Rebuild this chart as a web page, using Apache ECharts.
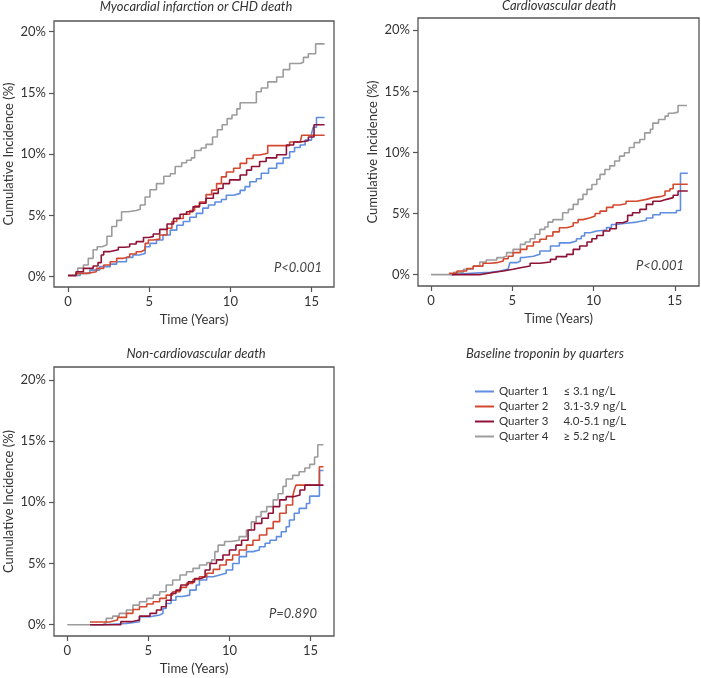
<!DOCTYPE html>
<html>
<head>
<meta charset="utf-8">
<script src="https://cdn.jsdelivr.net/npm/echarts@6/dist/echarts.min.js"></script>
<style>html,body{margin:0;padding:0;background:#fff;}#c{width:701px;height:678px;}</style>
</head>
<body>
<div id="c"></div>
<script>
// ---------- DATA ----------
const panelTitles = ['Myocardial infarction or CHD death', 'Cardiovascular death', 'Non-cardiovascular death'];
const pValues = ['P<0.001', 'P<0.001', 'P=0.890'];
const quarterNames = ['Quarter 1', 'Quarter 2', 'Quarter 3', 'Quarter 4'];
const quarterRanges = ['\u2264 3.1 ng/L', '3.1-3.9 ng/L', '4.0-5.1 ng/L', '\u2265 5.2 ng/L'];
const xTicks = [0, 5, 10, 15];
const yTicks = [0, 5, 10, 15, 20];

// Panel 1: Myocardial infarction or CHD death  [years, %]
const mi_q1 = [[0,0.1],[0.75,0.27],[1.35,0.54],[1.95,0.82],[2.6,1.03],[3.0,1.22],[3.6,1.58],[4.0,1.77],[4.4,1.9],[4.75,2.45],[5.05,2.72],[5.45,3.0],[5.85,3.4],[6.3,3.8],[6.7,4.2],[7.1,4.5],[7.5,4.85],[7.9,5.17],[8.3,5.6],[8.65,5.85],[9.05,6.1],[9.45,6.3],[9.75,6.65],[10.2,6.8],[10.6,7.05],[10.9,7.35],[11.2,7.75],[11.6,8.0],[11.9,8.45],[12.35,8.85],[12.85,9.25],[13.25,9.7],[13.65,10.2],[13.95,10.55],[14.3,10.75],[14.6,11.15],[15.0,11.7],[15.1,12.2],[15.3,13.0],[15.8,13.0]];
const mi_q2 = [[0,0.1],[0.5,0.27],[1.15,0.4],[1.75,0.68],[2.2,0.95],[2.6,1.22],[3.0,1.5],[3.4,1.63],[3.8,1.85],[4.2,2.04],[4.5,2.2],[4.75,2.72],[4.95,3.0],[5.25,3.07],[5.65,3.4],[6.1,3.95],[6.4,4.5],[6.7,4.75],[7.1,5.1],[7.5,5.4],[7.8,5.77],[8.1,6.1],[8.5,6.7],[8.85,7.07],[9.15,7.6],[9.45,8.15],[9.75,8.55],[10.2,8.85],[10.6,9.25],[11.0,9.65],[11.4,9.93],[11.8,10.07],[12.3,10.7],[13.45,10.7],[13.65,11.0],[14.3,11.15],[14.4,11.55],[15.8,11.55]];
const mi_q3 = [[0,0.1],[0.5,0.4],[0.95,0.68],[1.55,0.87],[1.85,1.15],[2.05,1.77],[2.2,2.05],[2.6,2.2],[3.1,2.4],[3.5,2.45],[3.8,2.67],[4.2,2.86],[4.65,3.2],[4.95,3.27],[5.25,3.48],[5.65,3.86],[6.1,4.3],[6.5,4.76],[6.9,5.1],[7.3,5.3],[7.7,5.7],[8.1,6.0],[8.5,6.4],[8.95,6.8],[9.25,7.2],[9.55,7.6],[9.95,7.9],[10.6,8.3],[11.0,8.7],[11.3,9.0],[11.8,9.4],[12.2,9.7],[12.85,9.95],[13.45,10.75],[13.9,11.0],[14.3,11.1],[14.8,11.4],[15.15,12.4],[15.8,12.4]];
const mi_q4 = [[0,0.1],[0.6,0.7],[0.95,0.95],[1.25,1.5],[1.55,2.2],[1.8,2.45],[2.1,2.6],[2.4,3.3],[2.7,4.1],[3.0,4.6],[3.3,5.3],[3.7,5.4],[4.2,5.5],[4.45,5.85],[4.75,6.5],[5.05,7.1],[5.45,7.6],[5.9,8.2],[6.3,8.4],[6.6,9.0],[7.0,9.3],[7.3,9.5],[7.6,9.7],[7.8,10.3],[8.2,10.5],[8.5,10.8],[8.9,11.4],[9.2,12.0],[9.5,12.4],[9.8,12.9],[10.1,13.2],[10.4,13.7],[10.6,14.2],[11.3,14.2],[11.6,15.1],[11.9,15.4],[12.3,15.9],[12.85,16.3],[13.25,16.9],[13.65,17.4],[14.3,17.5],[14.5,17.9],[14.8,18.2],[15.25,19.0],[15.8,19.0]];

// Panel 2: Cardiovascular death
const cvd_q1 = [[1.2,0],[1.3,0.15],[3.0,0.2],[3.65,0.3],[4.25,0.45],[4.75,0.57],[4.85,0.98],[5.3,1.12],[5.5,1.4],[5.7,1.5],[6.3,1.66],[6.7,1.93],[7.35,2.34],[7.9,2.6],[8.55,2.75],[8.95,2.94],[9.25,3.16],[9.45,3.43],[9.8,3.57],[10.2,3.65],[10.8,3.85],[11.1,4.1],[11.4,4.2],[12.0,4.3],[12.65,4.45],[13.25,4.63],[13.65,4.9],[14.1,5.07],[15.1,5.25],[15.35,8.3],[15.8,8.3]];
const cvd_q2 = [[1.1,0.1],[1.6,0.3],[2.2,0.5],[2.6,0.7],[3.2,0.93],[3.65,0.98],[4.05,1.12],[4.45,1.3],[4.75,1.5],[5.05,1.8],[5.5,2.07],[5.9,2.34],[6.3,2.67],[6.7,2.9],[7.1,3.16],[7.5,3.5],[7.9,3.84],[8.35,3.98],[8.75,4.25],[9.05,4.5],[9.35,4.66],[9.8,4.8],[10.1,5.0],[10.4,5.2],[10.8,5.5],[11.2,5.7],[11.6,5.8],[12.0,6.0],[12.65,6.16],[13.25,6.3],[13.65,6.38],[14.1,6.5],[14.4,6.84],[14.7,7.03],[14.9,7.4],[15.8,7.4]];
const cvd_q3 = [[1.3,0],[3.0,0.16],[3.7,0.3],[4.45,0.44],[5.05,0.57],[5.5,0.7],[6.1,0.93],[6.7,1.03],[7.35,1.25],[7.7,1.47],[8.35,1.66],[8.75,2.07],[9.15,2.34],[9.6,2.67],[9.9,2.94],[10.2,3.2],[10.6,3.57],[11.0,3.76],[11.4,4.25],[11.8,4.39],[12.1,4.85],[12.4,5.07],[12.85,5.34],[13.25,5.75],[13.65,6.0],[14.1,6.16],[14.5,6.3],[14.9,6.5],[15.2,6.84],[15.8,6.84]];
const cvd_q4 = [[0,0],[1.4,0.2],[2.0,0.44],[2.6,0.7],[3.0,1.03],[3.4,1.2],[4.05,1.39],[4.35,1.5],[4.65,1.8],[5.05,2.07],[5.5,2.48],[5.8,2.67],[6.1,2.94],[6.4,3.3],[6.7,3.7],[7.0,3.9],[7.2,4.3],[7.5,4.5],[8.1,5.07],[8.45,5.34],[8.75,5.75],[9.05,6.16],[9.35,6.57],[9.6,6.98],[9.9,7.38],[10.2,7.8],[10.4,8.2],[10.7,8.6],[11.0,8.9],[11.3,9.3],[11.6,9.7],[11.9,9.97],[12.2,10.4],[12.5,10.8],[12.85,11.06],[13.15,11.6],[13.5,11.9],[13.65,12.4],[14.0,12.7],[14.4,12.97],[14.6,13.2],[14.9,13.3],[15.2,13.84],[15.75,13.84]];

// Panel 3: Non-cardiovascular death
const ncvd_q1 = [[1.5,0],[2.2,0.1],[3.65,0.25],[4.45,0.65],[5.1,0.8],[5.7,0.93],[5.9,1.33],[6.1,1.74],[6.4,2.0],[6.7,2.3],[7.1,2.42],[7.55,2.83],[7.95,3.24],[8.15,3.65],[8.6,3.92],[9.0,4.06],[9.4,4.2],[9.8,4.47],[10.2,5.0],[10.6,5.56],[11.05,5.97],[11.45,6.1],[11.85,6.37],[12.2,6.65],[12.5,6.9],[12.9,7.2],[13.2,7.6],[13.5,8.0],[13.7,8.56],[14.0,9.1],[14.3,9.5],[14.75,9.9],[14.95,10.5],[15.55,12.6],[15.8,12.6]];
const ncvd_q2 = [[1.4,0.22],[2.6,0.38],[3.1,0.6],[3.65,0.93],[4.05,1.25],[4.45,1.47],[4.9,1.69],[5.3,1.88],[5.7,2.15],[6.1,2.42],[6.5,2.7],[6.95,3.05],[7.35,3.38],[7.75,3.7],[8.15,3.92],[8.6,4.2],[9.0,4.52],[9.4,4.88],[9.8,5.3],[10.2,5.7],[10.6,6.1],[11.05,6.5],[11.45,6.9],[11.85,7.33],[12.3,7.87],[12.7,8.42],[13.1,9.1],[13.5,9.78],[13.9,10.46],[14.0,11.0],[14.1,11.4],[15.55,12.9],[15.8,12.9]];
const ncvd_q3 = [[1.4,0],[3.3,0.25],[3.95,0.38],[4.45,0.7],[5.1,0.93],[5.5,1.2],[5.8,1.47],[6.1,2.0],[6.4,2.56],[6.7,2.83],[7.0,3.24],[7.45,3.5],[7.85,3.78],[8.25,3.92],[8.5,4.47],[8.8,5.0],[9.2,5.3],[9.6,5.7],[10.0,6.1],[10.4,6.5],[10.75,6.9],[11.15,7.74],[11.55,8.28],[12.0,8.7],[12.4,9.1],[12.7,9.65],[13.1,10.2],[13.5,10.46],[13.95,10.6],[14.35,11.0],[14.65,11.4],[15.8,11.4]];
const ncvd_q4 = [[0,0],[2.2,0.16],[2.4,0.52],[2.8,0.7],[3.2,0.93],[3.65,1.2],[4.05,1.6],[4.45,1.88],[4.9,2.15],[5.3,2.42],[5.7,2.7],[6.1,3.24],[6.5,3.65],[6.95,4.06],[7.35,4.33],[7.75,4.6],[8.15,4.88],[8.6,5.07],[8.9,5.3],[9.1,5.97],[9.3,6.5],[9.7,6.8],[10.1,6.9],[10.6,7.2],[11.05,7.74],[11.35,8.4],[11.65,8.83],[11.95,9.24],[12.3,9.65],[12.7,10.2],[13.0,10.7],[13.3,11.3],[13.5,11.9],[13.9,12.2],[14.3,12.5],[14.65,12.8],[14.95,13.1],[15.25,13.7],[15.45,14.7],[15.8,14.7]];

// ---------- STYLE / LAYOUT ----------
const FONT = 'Lato';
const TXT = '#333';
const colors = ['#5f8de0', '#d4482f', '#8e1236', '#9c9c9c'];
const panels = [
  {data: [mi_q1, mi_q2, mi_q3, mi_q4], grid: {left: 54, top: 21, width: 280, height: 266}, x: [-0.86, 16.38], y: [-0.84, 20.87], titleX: 196, titleY: 0, pX: 274, pY: 261},
  {data: [cvd_q1, cvd_q2, cvd_q3, cvd_q4], grid: {left: 418, top: 18, width: 281, height: 268}, x: [-0.80, 16.49], y: [-0.93, 21.0], titleX: 559, titleY: -1, pX: 636, pY: 259},
  {data: [ncvd_q1, ncvd_q2, ncvd_q3, ncvd_q4], grid: {left: 54, top: 367, width: 280, height: 269}, x: [-0.82, 16.45], y: [-0.92, 21.05], titleX: 196, titleY: 347, pX: 269, pY: 607}
];

const grids = [], xAxes = [], yAxes = [], series = [], titles = [], graphics = [];
panels.forEach((p, i) => {
  grids.push(Object.assign({show: true, borderColor: '#555', borderWidth: 1.3, backgroundColor: 'transparent', containLabel: false, outerBoundsMode: 'none'}, p.grid));
  xAxes.push({
    type: 'value', gridIndex: i, min: p.x[0], max: p.x[1], position: 'bottom',
    name: 'Time (Years)', nameLocation: 'middle', nameGap: 26,
    nameTextStyle: {fontFamily: FONT, fontSize: 13, color: TXT},
    axisLine: {show: false, onZero: false},
    axisTick: {show: true, inside: false, length: 5, lineStyle: {color: '#555', width: 1.2}, customValues: xTicks},
    axisLabel: {fontFamily: FONT, fontSize: 13, color: TXT, margin: 8, customValues: xTicks},
    splitLine: {show: false}
  });
  yAxes.push({
    type: 'value', gridIndex: i, min: p.y[0], max: p.y[1], position: 'left',
    name: 'Cumulative Incidence (%)', nameLocation: 'middle', nameGap: 39, nameRotate: 90,
    nameTextStyle: {fontFamily: FONT, fontSize: 13, color: TXT},
    axisLine: {show: false, onZero: false},
    axisTick: {show: true, inside: false, length: 5, lineStyle: {color: '#555', width: 1.2}, customValues: yTicks},
    axisLabel: {fontFamily: FONT, fontSize: 13, color: TXT, margin: 8, customValues: yTicks, formatter: '{value}%'},
    splitLine: {show: false}
  });
  p.data.forEach((d, q) => {
    series.push({
      type: 'line', name: quarterNames[q], xAxisIndex: i, yAxisIndex: i,
      data: d, step: 'end', showSymbol: false, symbol: 'none',
      lineStyle: {color: colors[q], width: 1.6}, itemStyle: {color: colors[q]},
      z: 2 + (q === 3 ? 0 : q), silent: true, animation: false
    });
  });
  titles.push({
    text: panelTitles[i], left: p.titleX, top: p.titleY, textAlign: 'center', padding: 0,
    textStyle: {fontFamily: FONT, fontSize: 13, fontStyle: 'italic', fontWeight: 'normal', color: TXT}
  });
  graphics.push({
    type: 'text', left: p.pX, top: p.pY,
    style: {text: pValues[i], fontFamily: FONT, fontSize: 13, fontStyle: 'italic', fill: '#444'}
  });
});
titles.push({
  text: 'Baseline troponin by quarters', left: 545, top: 347, textAlign: 'center', padding: 0,
  textStyle: {fontFamily: FONT, fontSize: 13, fontStyle: 'italic', fontWeight: 'normal', color: TXT}
});

const chart = echarts.init(document.getElementById('c'));
chart.setOption({
  animation: false,
  backgroundColor: '#fff',
  title: titles,
  grid: grids,
  xAxis: xAxes,
  yAxis: yAxes,
  series: series,
  graphic: graphics,
  legend: {
    data: quarterNames, orient: 'vertical', left: 475, top: 385, padding: 0,
    icon: 'rect', itemWidth: 19, itemHeight: 2, itemGap: 2, selectedMode: false,
    formatter: name => '{a|' + name + '}{b|' + quarterRanges[quarterNames.indexOf(name)] + '}',
    textStyle: {
      fontFamily: FONT, fontSize: 11.5, color: TXT, lineHeight: 13,
      rich: {a: {fontFamily: FONT, fontSize: 11.5, color: TXT}, b: {fontFamily: FONT, fontSize: 11.5, color: TXT, padding: [0, 0, 0, 15]}}
    }
  }
});
</script>
</body>
</html>
